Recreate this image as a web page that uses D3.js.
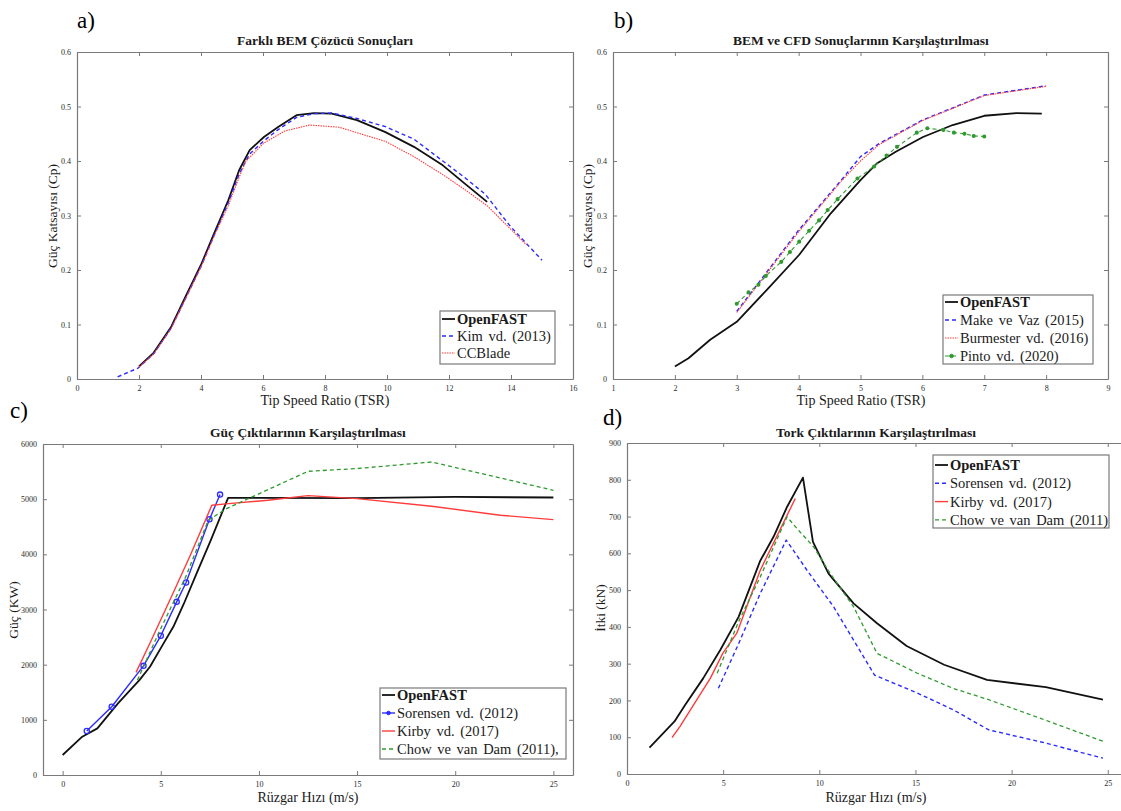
<!DOCTYPE html>
<html>
<head>
<meta charset="utf-8">
<script src="https://cdn.jsdelivr.net/npm/d3@7"></script>
<style>
  body { margin: 0; background: #fff; }
  svg, svg text { font-family: "Liberation Serif", "Times New Roman", serif; }
</style>
</head>
<body>
<div id="plot"></div>
<script>
// ---- panel a : BEM solvers, Cp vs TSR
const aOpenfastTsr = [2.0, 2.47, 3.04, 3.5, 4.02, 4.42, 4.88, 5.23, 5.57, 6.03, 6.5, 7.08, 7.65, 8.22, 9.03, 9.95, 10.87, 11.8, 12.5, 13.23];
const aOpenfastCp  = [0.023, 0.048, 0.096, 0.151, 0.212, 0.267, 0.328, 0.383, 0.42, 0.444, 0.463, 0.484, 0.488, 0.487, 0.475, 0.453, 0.426, 0.392, 0.359, 0.325];
const aKimTsr = [1.31, 1.97, 2.5, 3.04, 3.5, 4.02, 4.42, 4.88, 5.23, 5.57, 6.03, 6.5, 7.08, 7.65, 8.22, 9.03, 9.95, 10.87, 11.8, 12.5, 13.17, 13.98, 15.0];
const aKimCp  = [0.004, 0.02, 0.048, 0.094, 0.148, 0.209, 0.263, 0.323, 0.376, 0.413, 0.437, 0.458, 0.48, 0.487, 0.488, 0.478, 0.463, 0.44, 0.40, 0.37, 0.339, 0.28, 0.218];
const aCcbladeTsr = [2.0, 2.47, 3.04, 3.5, 4.02, 4.42, 4.88, 5.23, 5.45, 6.03, 6.7, 7.5, 8.45, 9.95, 10.87, 11.8, 12.5, 13.23, 14.5];
const aCcbladeCp  = [0.022, 0.046, 0.093, 0.147, 0.208, 0.262, 0.318, 0.37, 0.40, 0.433, 0.455, 0.466, 0.462, 0.436, 0.408, 0.375, 0.348, 0.318, 0.246];

// ---- panel b : BEM vs CFD
const bOpenfastTsr = [2, 2.22, 2.57, 3.0, 3.49, 4.01, 4.52, 5.0, 5.27, 5.57, 6.01, 6.49, 7.0, 7.52, 7.93];
const bOpenfastCp  = [0.023, 0.038, 0.072, 0.105, 0.164, 0.228, 0.304, 0.365, 0.396, 0.417, 0.444, 0.466, 0.483, 0.488, 0.487];
const bMakeTsr = [3, 4, 4.69, 5, 5.3, 6, 7, 8];
const bMakeCp  = [0.124, 0.273, 0.365, 0.408, 0.432, 0.475, 0.521, 0.538];
const bBurmTsr = [3, 4, 4.69, 5, 5.3, 6, 7, 8];
const bBurmCp  = [0.122, 0.27, 0.363, 0.400, 0.430, 0.474, 0.520, 0.537];
const bPintoTsr = [3.0, 3.19, 3.35, 3.47, 3.72, 3.86, 4.01, 4.17, 4.33, 4.47, 4.63, 4.95, 5.22, 5.42, 5.59, 5.91, 6.08, 6.34, 6.51, 6.68, 6.83, 7.0];
const bPintoCp  = [0.138, 0.159, 0.173, 0.189, 0.215, 0.233, 0.252, 0.272, 0.291, 0.31, 0.33, 0.368, 0.39, 0.41, 0.426, 0.452, 0.46, 0.457, 0.452, 0.45, 0.446, 0.445];

// ---- panel c : power vs wind speed
const cOpenfastWs = [0, 1.0, 1.77, 2.82, 3.91, 4.45, 5.09, 5.64, 6.18, 6.82, 7.55, 8.43, 15, 20, 25];
const cOpenfastP  = [362, 694, 845, 1298, 1720, 1962, 2354, 2686, 3109, 3652, 4256, 5025, 5020, 5040, 5030];
const cSorensenWs = [1.23, 2.5, 4.12, 5.0, 5.81, 6.29, 7.48, 8.02];
const cSorensenP  = [797, 1237, 1979, 2523, 3139, 3490, 4636, 5083];
const cKirbyWs = [3.74, 4.5, 5.5, 6.5, 7.6, 8.45, 10.46, 12.5, 15.0, 18.8, 22.3, 25.0];
const cKirbyP  = [1860, 2430, 3200, 3980, 4890, 4920, 4980, 5065, 5010, 4872, 4709, 4630];
const cChowWs = [3.81, 4.96, 6.27, 7.42, 8.36, 12.5, 15.0, 18.8, 25.0];
const cChowP  = [1720, 2626, 3591, 4618, 4830, 5505, 5555, 5674, 5161];

// ---- panel d : thrust vs wind speed
const dOpenfastWs = [1.17, 2.47, 3.03, 3.96, 4.85, 5.81, 6.93, 7.62, 8.32, 9.15, 9.67, 10.48, 11.78, 13.0, 14.54, 16.49, 18.72, 21.78, 24.75];
const dOpenfastT  = [72, 143, 188, 260, 337, 428, 580, 645, 726, 806, 631, 545, 464, 410, 348, 297, 256, 236, 202];
const dSorensenWs = [4.75, 5.81, 6.93, 8.28, 9.36, 10.74, 12.87, 15.1, 16.95, 18.81, 21.78, 24.75];
const dSorensenT  = [233, 355, 491, 636, 554, 455, 269, 220, 175, 120, 84, 43];
const dKirbyWs = [2.34, 2.75, 4.33, 4.98, 5.71, 6.93, 8.75];
const dKirbyT  = [99, 129, 260, 328, 383, 554, 749];
const dChowWs = [4.69, 5.81, 6.93, 8.32, 9.0, 9.7, 10.57, 11.78, 13.0, 15.1, 16.95, 18.81, 21.78, 24.75];
const dChowT  = [274, 415, 536, 699, 658, 618, 545, 455, 328, 274, 233, 202, 146, 89];

// ticks
const tsrTicksA = d3.range(0, 17, 2);
const tsrTicksB = d3.range(1, 10, 1);
const cpTicks = [0, 0.1, 0.2, 0.3, 0.4, 0.5, 0.6];
const wsTicks = [0, 5, 10, 15, 20, 25];
const powerTicks = d3.range(0, 6001, 1000);
const thrustTicks = d3.range(0, 901, 100);

const BLACK = '#111', BLUE = '#2b2bff', RED = '#ff3b3b', GREEN = '#2f9a2f';
const SERIF = '"Liberation Serif", "Times New Roman", serif';

const svg = d3.select('#plot').append('svg')
  .attr('width', 1121).attr('height', 811)
  .attr('font-family', SERIF);

function zip(xs, ys) { return xs.map((x, i) => [x, ys[i]]); }

function txt(sel, size, weight) {
  return sel.append('text').attr('font-family', SERIF).style('font-family', SERIF)
    .style('font-size', size + 'px').style('font-weight', weight || 'normal').attr('fill', '#1a1a1a');
}

function drawPanel(p) {
  const sx = d3.scaleLinear().domain(p.xDomain).range([p.box.l, p.box.r]);
  const sy = d3.scaleLinear().domain(p.yDomain).range([p.box.b, p.box.t]);
  const g = svg.append('g');

  const fmt = d => String(d);
  // axes, ticks pointing inward on all four sides
  const ax = [
    [d3.axisBottom(sx).tickValues(p.xTicks).tickFormat(fmt), 0, p.box.b, true],
    [d3.axisTop(sx).tickValues(p.xTicks).tickFormat(''), 0, p.box.t, false],
    [d3.axisLeft(sy).tickValues(p.yTicks).tickFormat(fmt), p.box.l, 0, true],
    [d3.axisRight(sy).tickValues(p.yTicks).tickFormat(''), p.box.r, 0, false]
  ];
  ax.forEach(([axis, tx, ty, lab]) => {
    const a = g.append('g').attr('transform', `translate(${tx},${ty})`)
      .call(axis.tickSizeInner(-4).tickSizeOuter(0).tickPadding(lab ? 6 : 0))
      .attr('font-family', SERIF);
    a.select('.domain').attr('stroke', '#7a7a7a').attr('stroke-width', 1.2);
    a.selectAll('.tick line').attr('stroke', '#7a7a7a');
    a.selectAll('.tick text').attr('fill', '#2a2a2a').style('font-size', '8px')
      .style('font-family', SERIF);
  });

  // series
  const line = d3.line().x(d => sx(d[0])).y(d => sy(d[1]));
  p.series.forEach(s => {
    const pts = zip(s.x, s.y);
    g.append('path').attr('d', line(pts))
      .attr('fill', 'none').attr('stroke', s.color)
      .attr('stroke-width', s.width)
      .attr('stroke-dasharray', s.dash || null)
      .attr('stroke-linejoin', 'round');
    if (s.marker) {
      g.selectAll(null).data(pts).enter().append('circle')
        .attr('cx', d => sx(d[0])).attr('cy', d => sy(d[1]))
        .attr('r', s.marker.r)
        .attr('fill', s.marker.fill).attr('stroke', s.color).attr('stroke-width', 1.3);
    }
  });

  // title and labels
  txt(g, 13.5, 'bold').attr('x', p.titleX).attr('y', p.titleY)
    .attr('text-anchor', 'middle').text(p.title);
  txt(g, 14).attr('x', p.xLabelX).attr('y', p.xLabelY)
    .attr('text-anchor', 'middle').text(p.xLabel);
  txt(g, 13.5).attr('transform', `translate(${p.yLabelX},${p.yLabelY}) rotate(-90)`)
    .attr('text-anchor', 'middle').text(p.yLabel);
  txt(g, 23).attr('x', p.tag[0]).attr('y', p.tag[1]).attr('fill', '#000').text(p.tag[2]);

  // legend
  const L = p.legend;
  g.append('rect').attr('x', L.x).attr('y', L.y).attr('width', L.w).attr('height', L.h)
    .attr('fill', '#fff').attr('stroke', '#7a7a7a').attr('stroke-width', 1.2);
  p.series.forEach((s, i) => {
    const y = L.y + L.first + i * L.step;
    g.append('line').attr('x1', L.x + 2).attr('x2', L.x + 15).attr('y1', y).attr('y2', y)
      .attr('stroke', s.color).attr('stroke-width', s.width)
      .attr('stroke-dasharray', s.dash || null);
    if (s.marker) {
      g.append('circle').attr('cx', L.x + 8.5).attr('cy', y).attr('r', 1.8)
        .attr('fill', s.color).attr('stroke', s.color);
    }
    txt(g, 14.5, i === 0 ? 'bold' : 'normal').attr('x', L.x + 17).attr('y', y + 5)
      .style('word-spacing', '2px').text(s.name);
  });
}

drawPanel({
  box: { l: 77, r: 573, t: 52, b: 379 },
  xDomain: [0, 16], yDomain: [0, 0.6], xTicks: tsrTicksA, yTicks: cpTicks,
  title: 'Farklı BEM Çözücü Sonuçları', titleX: 325, titleY: 45,
  xLabel: 'Tip Speed Ratio (TSR)', xLabelX: 325, xLabelY: 405,
  yLabel: 'Güç Katsayısı (Cp)', yLabelX: 57, yLabelY: 216,
  tag: [77, 28, 'a)'],
  legend: { x: 440, y: 311, w: 115, h: 53, first: 8, step: 17 },
  series: [
    { name: 'OpenFAST', x: aOpenfastTsr, y: aOpenfastCp, color: BLACK, width: 1.8 },
    { name: 'Kim vd. (2013)', x: aKimTsr, y: aKimCp, color: BLUE, width: 1.4, dash: '4,3' },
    { name: 'CCBlade', x: aCcbladeTsr, y: aCcbladeCp, color: RED, width: 1.1, dash: '1.5,1' }
  ]
});

drawPanel({
  box: { l: 613, r: 1108, t: 52, b: 379 },
  xDomain: [1, 9], yDomain: [0, 0.6], xTicks: tsrTicksB, yTicks: cpTicks,
  title: 'BEM ve CFD Sonuçlarının Karşılaştırılması', titleX: 861, titleY: 45,
  xLabel: 'Tip Speed Ratio (TSR)', xLabelX: 861, xLabelY: 405,
  yLabel: 'Güç Katsayısı (Cp)', yLabelX: 592, yLabelY: 216,
  tag: [614, 28, 'b)'],
  legend: { x: 943, y: 295, w: 150, h: 69, first: 7, step: 18 },
  series: [
    { name: 'OpenFAST', x: bOpenfastTsr, y: bOpenfastCp, color: BLACK, width: 1.8 },
    { name: 'Make ve Vaz (2015)', x: bMakeTsr, y: bMakeCp, color: BLUE, width: 1.4, dash: '4,3' },
    { name: 'Burmester vd. (2016)', x: bBurmTsr, y: bBurmCp, color: RED, width: 1.1, dash: '1.5,1' },
    { name: 'Pinto vd. (2020)', x: bPintoTsr, y: bPintoCp, color: GREEN, width: 1.1, dash: '4,3',
      marker: { r: 1.4, fill: GREEN } }
  ]
});

drawPanel({
  box: { l: 43, r: 573, t: 444, b: 775 },
  xDomain: [-1, 26], yDomain: [0, 6000], xTicks: wsTicks, yTicks: powerTicks,
  title: 'Güç Çıktılarının Karşılaştırılması', titleX: 308, titleY: 437,
  xLabelX: 308, xLabelY: 802, xLabel: 'Rüzgar Hızı (m/s)',
  yLabel: 'Güç (KW)', yLabelX: 18, yLabelY: 610,
  tag: [10, 418, 'c)'],
  legend: { x: 380, y: 688, w: 186, h: 71, first: 7, step: 18 },
  series: [
    { name: 'OpenFAST', x: cOpenfastWs, y: cOpenfastP, color: BLACK, width: 1.8 },
    { name: 'Sorensen vd. (2012)', x: cSorensenWs, y: cSorensenP, color: BLUE, width: 1.4,
      marker: { r: 2.6, fill: 'none' } },
    { name: 'Kirby vd. (2017)', x: cKirbyWs, y: cKirbyP, color: RED, width: 1.4 },
    { name: 'Chow ve van Dam (2011),', x: cChowWs, y: cChowP, color: GREEN, width: 1.3, dash: '4,3' }
  ]
});

drawPanel({
  box: { l: 627, r: 1127, t: 443, b: 774 },
  xDomain: [0, 26], yDomain: [0, 900], xTicks: wsTicks, yTicks: thrustTicks,
  title: 'Tork Çıktılarının Karşılaştırılması', titleX: 876, titleY: 437,
  xLabel: 'Rüzgar Hızı (m/s)', xLabelX: 876, xLabelY: 802,
  yLabel: 'İtki (kN)', yLabelX: 605, yLabelY: 608,
  tag: [603, 425, 'd)'],
  legend: { x: 933, y: 455, w: 176, h: 73, first: 10, step: 18.3 },
  series: [
    { name: 'OpenFAST', x: dOpenfastWs, y: dOpenfastT, color: BLACK, width: 1.8 },
    { name: 'Sorensen vd. (2012)', x: dSorensenWs, y: dSorensenT, color: BLUE, width: 1.4, dash: '4,3' },
    { name: 'Kirby vd. (2017)', x: dKirbyWs, y: dKirbyT, color: RED, width: 1.4 },
    { name: 'Chow ve van Dam (2011)', x: dChowWs, y: dChowT, color: GREEN, width: 1.3, dash: '4,3' }
  ]
});
</script>
</body>
</html>
